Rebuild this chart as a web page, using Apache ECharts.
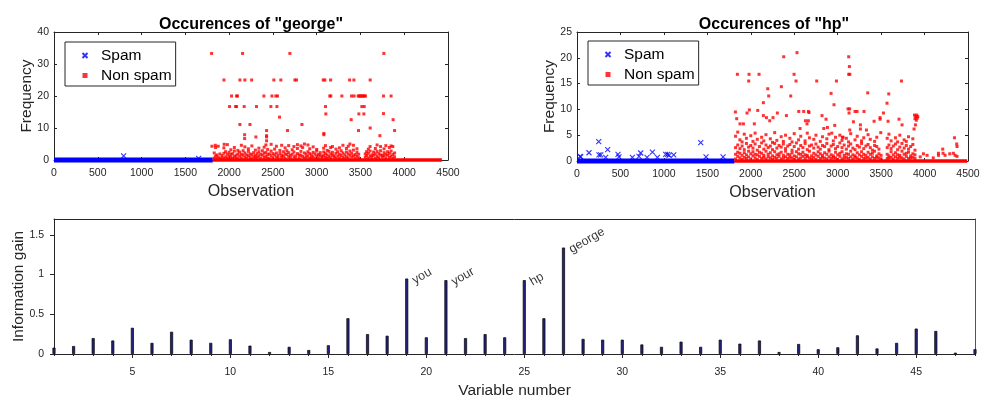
<!DOCTYPE html>
<html><head><meta charset="utf-8">
<script src="https://cdn.jsdelivr.net/npm/echarts@6/dist/echarts.min.js"></script>
<style>html,body{margin:0;padding:0;background:#fff}#c{width:982px;height:397px}</style>
</head><body><div id="c"></div>
<script>
// ---------- DATA ----------
const georgeTitle = 'Occurences of "george"';
const hpTitle = 'Occurences of "hp"';
const legendNames = ['Spam', 'Non spam'];

// dense rows of markers at zero (spam obs 1..1813, non-spam obs 1814..)
const georgeSpamBand = [[0, 0], [1813, 0]];
const georgeNonSpamBand = [[1813, 0], [4430, 0]];
const hpSpamBand = [[0, 0], [1813, 0]];
const hpNonSpamBand = [[1813, 0], [4490, 0]];

// "george": spam observations above zero
const georgeSpam = [[795, 1.3], [1652, 0.5]];
// "george": non-spam, high values
const georgeNonSpamHigh = [
  [1800,33.3],[2154,33.3],[2694,33.3],[3767,33.3],
  [1941,25],[2123,25],[2180,25],[2257,25],[2511,25],[2591,25],[2751,25],[2770,25],[3075,25],[3094,25],[3159,25],[3376,25],[3425,25],[3611,25],
  [2028,20],[2085,20],[2096,20],[2397,20],[2489,20],[2534,20],[2553,20],[3150,20],[3162,20],[3288,20],[3398,20],[3428,20],[3474,20],[3486,20],[3497,20],[3508,20],[3520,20],[3534,20],[3546,20],[3558,20],[3763,20],[3850,20],
  [2005,16.7],[2074,16.7],[2085,16.7],[2172,16.7],[2313,16.7],[2477,16.7],[2546,16.7],[3101,16.7],[3516,16.7],[3543,16.7],
  [2576,13.4],[3105,14.4],[3482,14.4],[3539,14.4],[3763,14.5],
  [2123,11.1],[2238,11.1],[2832,11.1],[3394,12.6],[3873,12.6],
  [2667,9.2],[2428,9.2],[3478,9.2],[3890,9.2],[3611,10],
  [2177,7.9],[2177,6.7],[2306,7.2],[2428,7.6],[2428,7.2],[2428,6.0],[3082,8.3],[3082,7.9],[3722,7.6],
  [1804,4.3],[1842,4.6],[1944,4.9]
];
// "george": non-spam, low values (observation, values...)
const georgeNonSpamLow = [
  [1830,0.6,2.2],[1845,1.2,3.9],[1860,0.4,1.6],[1875,0.9,4.3],[1895,0.5,1.9],[1920,1.4,0.7],[1940,2.1,0.4,3.8],
  [1960,1.0,2.6],[1980,0.6,1.8,4.8],[2000,1.3,2.4],[2020,0.8,1.7,3.2],[2040,0.5,2.0],[2060,1.1,2.8,3.9],
  [2080,0.7,1.5],[2100,1.9,0.4,3.0],[2120,1.2,2.5],[2140,0.6,1.8,4.6],[2160,1.5,2.9],[2180,0.9,2.2,4.1],
  [2200,0.5,1.6],[2220,1.3,2.7,3.5],[2240,0.8,1.9],[2260,1.7,0.3,4.4],[2280,1.0,2.3],[2300,0.6,1.4,3.1],
  [2320,2.0,0.9],[2340,1.2,2.6,3.7],[2360,0.5,1.8],[2380,1.5,2.9],[2400,0.8,2.1,4.0],[2420,1.1,2.4,4.7],
  [2440,0.6,1.7,3.3],[2460,1.9,0.4],[2480,1.3,2.8,4.9],[2500,0.7,2.0],[2520,1.6,3.4],[2540,0.9,2.2,4.3],
  [2560,1.4,0.5],[2580,2.1,3.0],[2600,0.8,1.5,4.6],[2620,1.2,2.6],[2640,0.6,1.9,3.8],[2660,1.7,2.9],
  [2680,1.0,2.3,4.5],[2700,0.5,1.4],[2720,1.8,3.2],[2740,0.9,2.5,4.2],[2760,1.3,0.4],[2780,2.0,3.6,4.8],
  [2800,0.7,1.6],[2820,1.5,2.7,4.4],[2840,1.1,3.9],[2860,0.6,2.2,5.0],[2880,1.8,0.9],[2900,1.2,2.6,4.7],
  [2920,0.5,2.0,3.5],[2940,1.6,0.8],[2960,1.0,2.4,4.1],[2980,1.9,0.4],[3000,1.3,2.8,3.3],[3020,0.7,1.7],
  [3040,1.5,2.3],[3060,0.6,1.1],[3080,1.4,2.5,3.7],[3100,0.8,2.0,4.5],[3120,1.6,0.5,3.0],[3140,1.1,2.7],
  [3160,0.7,1.9,3.9],[3180,1.5,2.4,4.2],[3200,0.9,1.3],[3220,2.1,0.5,3.4],[3240,1.2,2.6],[3260,0.6,1.8,3.8],
  [3280,1.4,2.9],[3300,0.8,2.2,4.6],[3320,1.6,0.4],[3340,1.0,2.5,3.6],[3360,0.6,1.9,4.3],[3380,1.5,2.8,5.0],
  [3400,0.9,2.1],[3420,1.3,3.1,4.6],[3440,0.5,1.7],[3460,1.2,2.4,3.5],[3480,0.7,1.8],
  [3555,0.8,1.9],[3570,1.4,2.6],[3590,0.6,2.1,3.4],[3610,1.2,2.8,4.2],[3630,0.8,1.6],[3650,1.5,2.5],
  [3670,0.5,1.9,3.6],[3690,1.1,2.7,4.7],[3710,0.7,2.0],[3730,1.6,2.9,4.2],[3750,0.9,1.4],[3770,1.3,2.3,3.5],
  [3790,0.6,1.8,4.5],[3810,1.5,2.6],[3830,0.8,2.1,3.9],[3850,1.2,2.8,4.4],[3870,0.5,1.7,4.2],[3890,1.0,2.2]
];

// "hp": spam observations above zero
const hpSpam = [
  [35,0.9],[43,0.78],[138,1.6],[250,3.75],[253,1.17],[273,1.17],[330,0.7],[353,2.2],[472,1.3],[483,0.8],
  [637,0.7],[714,0.9],[733,1.55],[806,0.7],[868,1.7],[925,0.7],[1021,1.3],[1044,1.3],[1059,1.1],[1113,1.17],
  [1424,3.55],[1485,0.8],[1681,0.8]
];
// "hp": non-spam, high values
const hpNonSpamHigh = [
  [2379,20.2],[2532,21.0],[1846,16.8],[1980,16.8],[2095,16.8],[1976,15.5],[2498,16.8],[2521,15.5],[2759,15.5],[2986,15.5],
  [2352,14.4],[2195,14.0],[2206,12.6],[2460,12.6],[2924,13.1],[2958,10.9],[2145,11.3],[1823,9.5],[1838,8.2],[1957,9.3],
  [1984,9.9],[2080,9.8],[2145,8.8],[2180,8.4],[2218,7.8],[2256,8.4],[2306,9.3],[2410,8.8],[2552,9.6],[2609,9.6],
  [2663,9.6],[2670,9.4],[2629,7.8],[2663,7.8],[2820,8.8],[2866,8.1],[2966,6.9],[1876,7.2],[1915,7.2],[2041,7.2],
  [2567,6.3],[2647,7.2],[2840,6.3],[2882,6.5],[2932,5.4],[3062,4.6],
  [3127,20.2],[3135,18.3],[3127,16.8],[3140,16.8],[3734,15.5],[3346,13.2],[3588,13.0],[3568,11.2],[3119,10.1],[3138,10.1],
  [3131,9.3],[3200,9.6],[3223,9.6],[3303,9.6],[3181,7.6],[3139,6.0],[3262,7.0],[3262,6.2],[3331,6.0],[3419,7.7],
  [3488,8.4],[3488,8.1],[3527,9.3],[3580,7.7],[3706,8.1],[3741,7.0],[3884,8.9],[3898,8.6],[3911,8.9],[3922,8.6],
  [3890,8.2],[3905,7.9],[3915,8.3],[3895,7.0],[3879,6.2],[3055,4.6],[3496,5.5],
  [3950,0.8],[3987,1.4],[4029,1.1],[4100,0.6],[4160,1.5],[4160,1.1],[4209,2.3],[4213,1.5],[4236,1.1],[4290,1.4],
  [4332,1.5],[4344,4.5],[4351,1.1],[4370,3.3],[4374,2.8],[4374,0.9]
];
// "hp": non-spam, low values (observation, values...)
const hpNonSpamLow = [
  [1825,0.4,1.3,2.6,4.8],[1850,0.9,1.7,3.1,5.6],[1875,0.6,1.5,2.4,4.1],[1900,1.1,0.3,2.9,3.7],[1925,0.7,1.6,2.2,5.2],
  [1950,1.2,0.5,3.4,4.4],[1975,0.8,1.9,2.7],[2000,0.4,1.4,3.0,4.9],[2025,1.0,1.8,2.5,3.8],[2050,0.6,1.3,3.3,5.4],
  [2075,1.2,0.3,2.1,4.2],[2100,0.9,1.7,2.8],[2125,0.5,1.5,3.5,4.6],[2150,1.1,0.7,2.3,3.9],[2175,0.4,1.9,3.1,5.1],
  [2200,1.3,0.8,2.6],[2225,0.6,1.6,2.9,4.3],[2250,1.0,0.3,2.2,3.6],[2275,0.7,1.8,3.4,5.5],[2300,1.2,0.5,2.5,4.0],
  [2325,0.9,1.4,3.0],[2350,0.4,1.7,2.7,4.7],[2375,1.1,0.6,3.3,3.8],[2400,0.8,1.9,2.4,5.0],[2425,0.5,1.3,2.9],
  [2450,1.2,0.7,3.2,4.4],[2475,0.6,1.6,2.1,3.7],[2500,1.0,0.3,2.8,5.3],[2525,0.8,1.8,3.5],[2550,0.4,1.4,2.3,4.1],
  [2575,1.3,0.6,3.0,4.8],[2600,0.9,1.7,2.6],[2625,0.5,1.2,3.4,3.9],[2650,1.1,0.8,2.2,5.4],[2675,0.6,1.9,2.9,4.5],
  [2700,1.0,0.4,3.1],[2725,0.7,1.5,2.5,4.2],[2750,1.2,0.3,3.3,5.0],[2775,0.9,1.8,2.7],[2800,0.5,1.4,2.3,3.8],
  [2825,1.1,0.7,3.0,4.7],[2850,0.6,1.6,2.8],[2875,1.3,0.4,3.4,4.3],[2900,0.8,1.9,2.2,5.2],[2925,0.5,1.2,2.9],
  [2950,1.0,0.7,3.2,3.9],[2975,0.6,1.7,2.4,4.6],[3000,1.2,0.3,2.8],[3025,0.9,1.5,3.5,5.0],[3050,0.4,1.8,2.6,4.0],
  [3075,1.1,0.6,3.1],[3100,0.7,1.4,2.3,4.4],[3125,1.3,0.5,2.9,3.7],[3150,0.8,1.9,3.3,5.3],[3175,0.4,1.2,2.5],
  [3200,1.0,0.7,2.2,4.1],[3225,0.6,1.6,3.0,4.8],[3250,1.2,0.3,2.7],[3275,0.9,1.8,3.4,3.9],[3300,0.5,1.3,2.4,4.5],
  [3325,1.1,0.6,2.9],[3350,0.7,1.7,3.2,5.1],[3375,1.3,0.4,2.6,4.2],[3400,0.8,1.5,2.1],[3425,0.5,1.9,3.0,3.8],
  [3450,1.0,0.7,2.8,4.6],[3475,0.6,1.4,2.3],[3500,1.1,0.4],
  [3570,0.5,1.3,2.6,4.4],[3590,1.0,0.6,3.1,5.2],[3615,0.7,1.8,2.4,3.9],[3640,1.2,0.4,2.9],[3665,0.8,1.6,3.3,4.5],
  [3690,0.5,1.2,2.2,3.7],[3715,1.1,0.7,2.7,5.0],[3740,0.6,1.9,3.4],[3765,1.3,0.4,2.5,4.1],[3790,0.9,1.5,3.0,3.8],
  [3815,0.5,1.7,2.3,4.7],[3840,1.0,0.6,2.8],[3865,0.7,1.4,3.2,4.3],[3890,1.2,0.5,2.1]
];

// Information gain per variable (variables 1..48)
const infoGain = [
  0.08,0.10,0.20,0.17,0.33,0.14,0.28,0.18,0.14,0.185,0.105,0.025,0.09,0.05,0.11,
  0.45,0.25,0.23,0.95,0.21,0.93,0.20,0.25,0.21,0.93,0.45,1.34,0.19,0.18,0.18,0.12,
  0.09,0.155,0.09,0.18,0.13,0.17,0.025,0.126,0.06,0.084,0.235,0.07,0.14,0.32,0.29,0.017,0.06
];
const annotVars = [19, 21, 25, 27];
const annotWords = ['you', 'your', 'hp', 'george'];
const varTicks = [5, 10, 15, 20, 25, 30, 35, 40, 45];
const gainTicks = [0, 0.5, 1, 1.5];

// ---------- BUILD ----------
function expand(cols) { const out = []; cols.forEach(c => { for (let i = 1; i < c.length; i++) out.push([c[0], c[i]]); }); return out; }
const georgeNonSpam = georgeNonSpamHigh.concat(expand(georgeNonSpamLow));
const hpNonSpam = hpNonSpamHigh.concat(expand(hpNonSpamLow));
const gainData = infoGain.map((v, i) => [i + 1, v]);
const annotData = annotVars.map((v, i) => [v, infoGain[v - 1], annotWords[i]]);

const FONT = 'Liberation Sans, Arial, Helvetica, sans-serif';
const AX = '#262626';
const X_PATH = 'path://M0,0L10,10M10,0L0,10';
const DOT_PATH = 'path://M0,0L10,0L10,10L0,10Z';
const plain = v => String(v);

function boxX(grid, min, max, interval, pos, withLabels, name) {
  const a = {
    gridIndex: grid, type: 'value', min: min, max: max, interval: interval, position: pos,
    axisLine: { show: true, onZero: false, lineStyle: { color: AX, width: 1 } },
    axisTick: { show: true, inside: true, length: 3, lineStyle: { color: AX } },
    axisLabel: { show: withLabels, fontSize: 10.5, color: AX, margin: 8, fontFamily: FONT, formatter: plain },
    splitLine: { show: false }
  };
  if (name) { a.name = name; a.nameLocation = 'middle'; a.nameGap = 24; a.nameMoveOverlap = false; a.nameTextStyle = { fontSize: 16, color: AX, fontFamily: FONT }; }
  return a;
}
function boxY(grid, min, max, interval, pos, withLabels, name) {
  const a = {
    gridIndex: grid, type: 'value', min: min, max: max, interval: interval, position: pos,
    axisLine: { show: true, onZero: false, lineStyle: { color: AX, width: 1 } },
    axisTick: { show: true, inside: true, length: 3, lineStyle: { color: AX } },
    axisLabel: { show: withLabels, fontSize: 10.5, color: AX, margin: 5, fontFamily: FONT, formatter: plain },
    splitLine: { show: false }
  };
  if (name) { a.name = name; a.nameLocation = 'middle'; a.nameGap = 19; a.nameMoveOverlap = false; a.nameTextStyle = { fontSize: 15.5, color: AX, fontFamily: FONT }; }
  return a;
}

const legendCommon = {
  orient: 'vertical', data: legendNames, backgroundColor: '#fff',
  borderColor: AX, borderWidth: 1, padding: [5, 4, 2, 15], itemGap: 3,
  itemWidth: 22, itemHeight: 5, selectedMode: false,
  textStyle: { fontSize: 15.5, color: '#000', fontFamily: FONT, lineHeight: 17 }
};

const spamStyle = { color: 'none', borderColor: '#0000ff', borderWidth: 1.1 };
const nonSpamStyle = { color: '#ff0000' };

function plotSeries(ax, spamBand, nonBand, spam, non) {
  return [
    { type: 'line', name: 'spam-band', xAxisIndex: ax, yAxisIndex: ax, data: spamBand, showSymbol: false, symbol: 'none',
      lineStyle: { color: '#0000ff', width: 5, cap: 'butt' }, clip: false, silent: true, z: 2, animation: false },
    { type: 'scatter', name: 'Spam', xAxisIndex: ax, yAxisIndex: ax, data: spam, symbol: X_PATH, symbolSize: 5,
      itemStyle: spamStyle, z: 3, animation: false },
    { type: 'line', name: 'nonspam-band', xAxisIndex: ax, yAxisIndex: ax, data: nonBand, showSymbol: false, symbol: 'none',
      lineStyle: { color: '#ff0000', width: 3.5, cap: 'butt' }, clip: false, silent: true, z: 4, animation: false },
    { type: 'scatter', name: 'Non spam', xAxisIndex: ax, yAxisIndex: ax, data: non, symbol: DOT_PATH, symbolSize: 3,
      itemStyle: nonSpamStyle, z: 5, animation: false }
  ];
}

const option = {
  animation: false,
  backgroundColor: '#fff',
  textStyle: { fontFamily: FONT },
  title: [
    { text: georgeTitle, left: 246, top: 12, textAlign: 'center', textStyle: { fontSize: 16, fontWeight: 'bold', color: '#000', fontFamily: FONT } },
    { text: hpTitle, left: 769, top: 12, textAlign: 'center', textStyle: { fontSize: 16, fontWeight: 'bold', color: '#000', fontFamily: FONT } }
  ],
  legend: [
    Object.assign({ left: 65, top: 42 }, legendCommon),
    Object.assign({ left: 588, top: 41 }, legendCommon)
  ],
  grid: [
    { left: 54, top: 32, width: 394, height: 128, outerBoundsMode: 'none', containLabel: false },
    { left: 577, top: 32, width: 391, height: 129, outerBoundsMode: 'none', containLabel: false },
    { left: 54, top: 219, width: 921, height: 135, outerBoundsMode: 'none', containLabel: false }
  ],
  xAxis: [
    boxX(0, 0, 4500, 500, 'bottom', true, 'Observation'),
    boxX(0, 0, 4500, 500, 'top', false),
    boxX(1, 0, 4500, 500, 'bottom', true, 'Observation'),
    boxX(1, 0, 4500, 500, 'top', false),
    { gridIndex: 2, type: 'value', min: 1, max: 48, position: 'bottom',
      axisLine: { show: true, onZero: false, lineStyle: { color: AX } },
      axisTick: { show: true, inside: false, length: 4, customValues: varTicks, lineStyle: { color: AX } },
      axisLabel: { show: true, customValues: varTicks, fontSize: 10.5, color: AX, margin: 13, fontFamily: FONT, formatter: plain },
      splitLine: { show: false },
      name: 'Variable number', nameLocation: 'middle', nameGap: 29, nameMoveOverlap: false, nameTextStyle: { fontSize: 15.5, color: AX, fontFamily: FONT } },
    { gridIndex: 2, type: 'value', min: 1, max: 48, position: 'top',
      axisLine: { show: true, onZero: false, lineStyle: { color: AX } }, axisTick: { show: false }, axisLabel: { show: false }, splitLine: { show: false } },
    { gridIndex: 2, type: 'value', min: 1, max: 48, interval: 1, position: 'bottom',
      axisLine: { show: false }, axisTick: { show: true, inside: false, length: 2, lineStyle: { color: AX } }, axisLabel: { show: false }, splitLine: { show: false } }
  ],
  yAxis: [
    boxY(0, 0, 40, 10, 'left', true, 'Frequency'),
    boxY(0, 0, 40, 10, 'right', false),
    boxY(1, 0, 25, 5, 'left', true, 'Frequency'),
    boxY(1, 0, 25, 5, 'right', false),
    { gridIndex: 2, type: 'value', min: 0, max: 1.7, position: 'left',
      axisLine: { show: true, onZero: false, lineStyle: { color: AX } },
      axisTick: { show: true, inside: false, length: 4, customValues: gainTicks, lineStyle: { color: AX } },
      axisLabel: { show: true, customValues: gainTicks, fontSize: 10.5, color: AX, margin: 10, fontFamily: FONT, formatter: plain },
      splitLine: { show: false },
      name: 'Information gain', nameLocation: 'middle', nameGap: 27, nameMoveOverlap: false, nameTextStyle: { fontSize: 15.5, color: AX, fontFamily: FONT } },
    { gridIndex: 2, type: 'value', min: 0, max: 1.7, position: 'right',
      axisLine: { show: true, onZero: false, lineStyle: { color: '#555' } }, axisTick: { show: false }, axisLabel: { show: false }, splitLine: { show: false } }
  ],
  series: [].concat(
    plotSeries(0, georgeSpamBand, georgeNonSpamBand, georgeSpam, georgeNonSpam),
    plotSeries(2, hpSpamBand, hpNonSpamBand, hpSpam, hpNonSpam),
    [
      { type: 'bar', name: 'gain', xAxisIndex: 4, yAxisIndex: 4, data: gainData, barWidth: 3,
        itemStyle: { color: '#23237d', borderColor: '#000', borderWidth: 0.7 }, animation: false },
      { type: 'scatter', name: 'annot', xAxisIndex: 4, yAxisIndex: 4, data: annotData, symbolSize: 0, silent: true,
        label: { show: true, position: 'right', distance: 5, offset: [0, 3], rotate: 30, align: 'left', verticalAlign: 'middle',
          fontSize: 12.5, color: '#000', fontFamily: FONT, formatter: p => p.value[2] }, animation: false }
    ]
  )
};

const chart = echarts.init(document.getElementById('c'), null, { renderer: 'canvas' });
chart.setOption(option);
</script>
</body></html>
